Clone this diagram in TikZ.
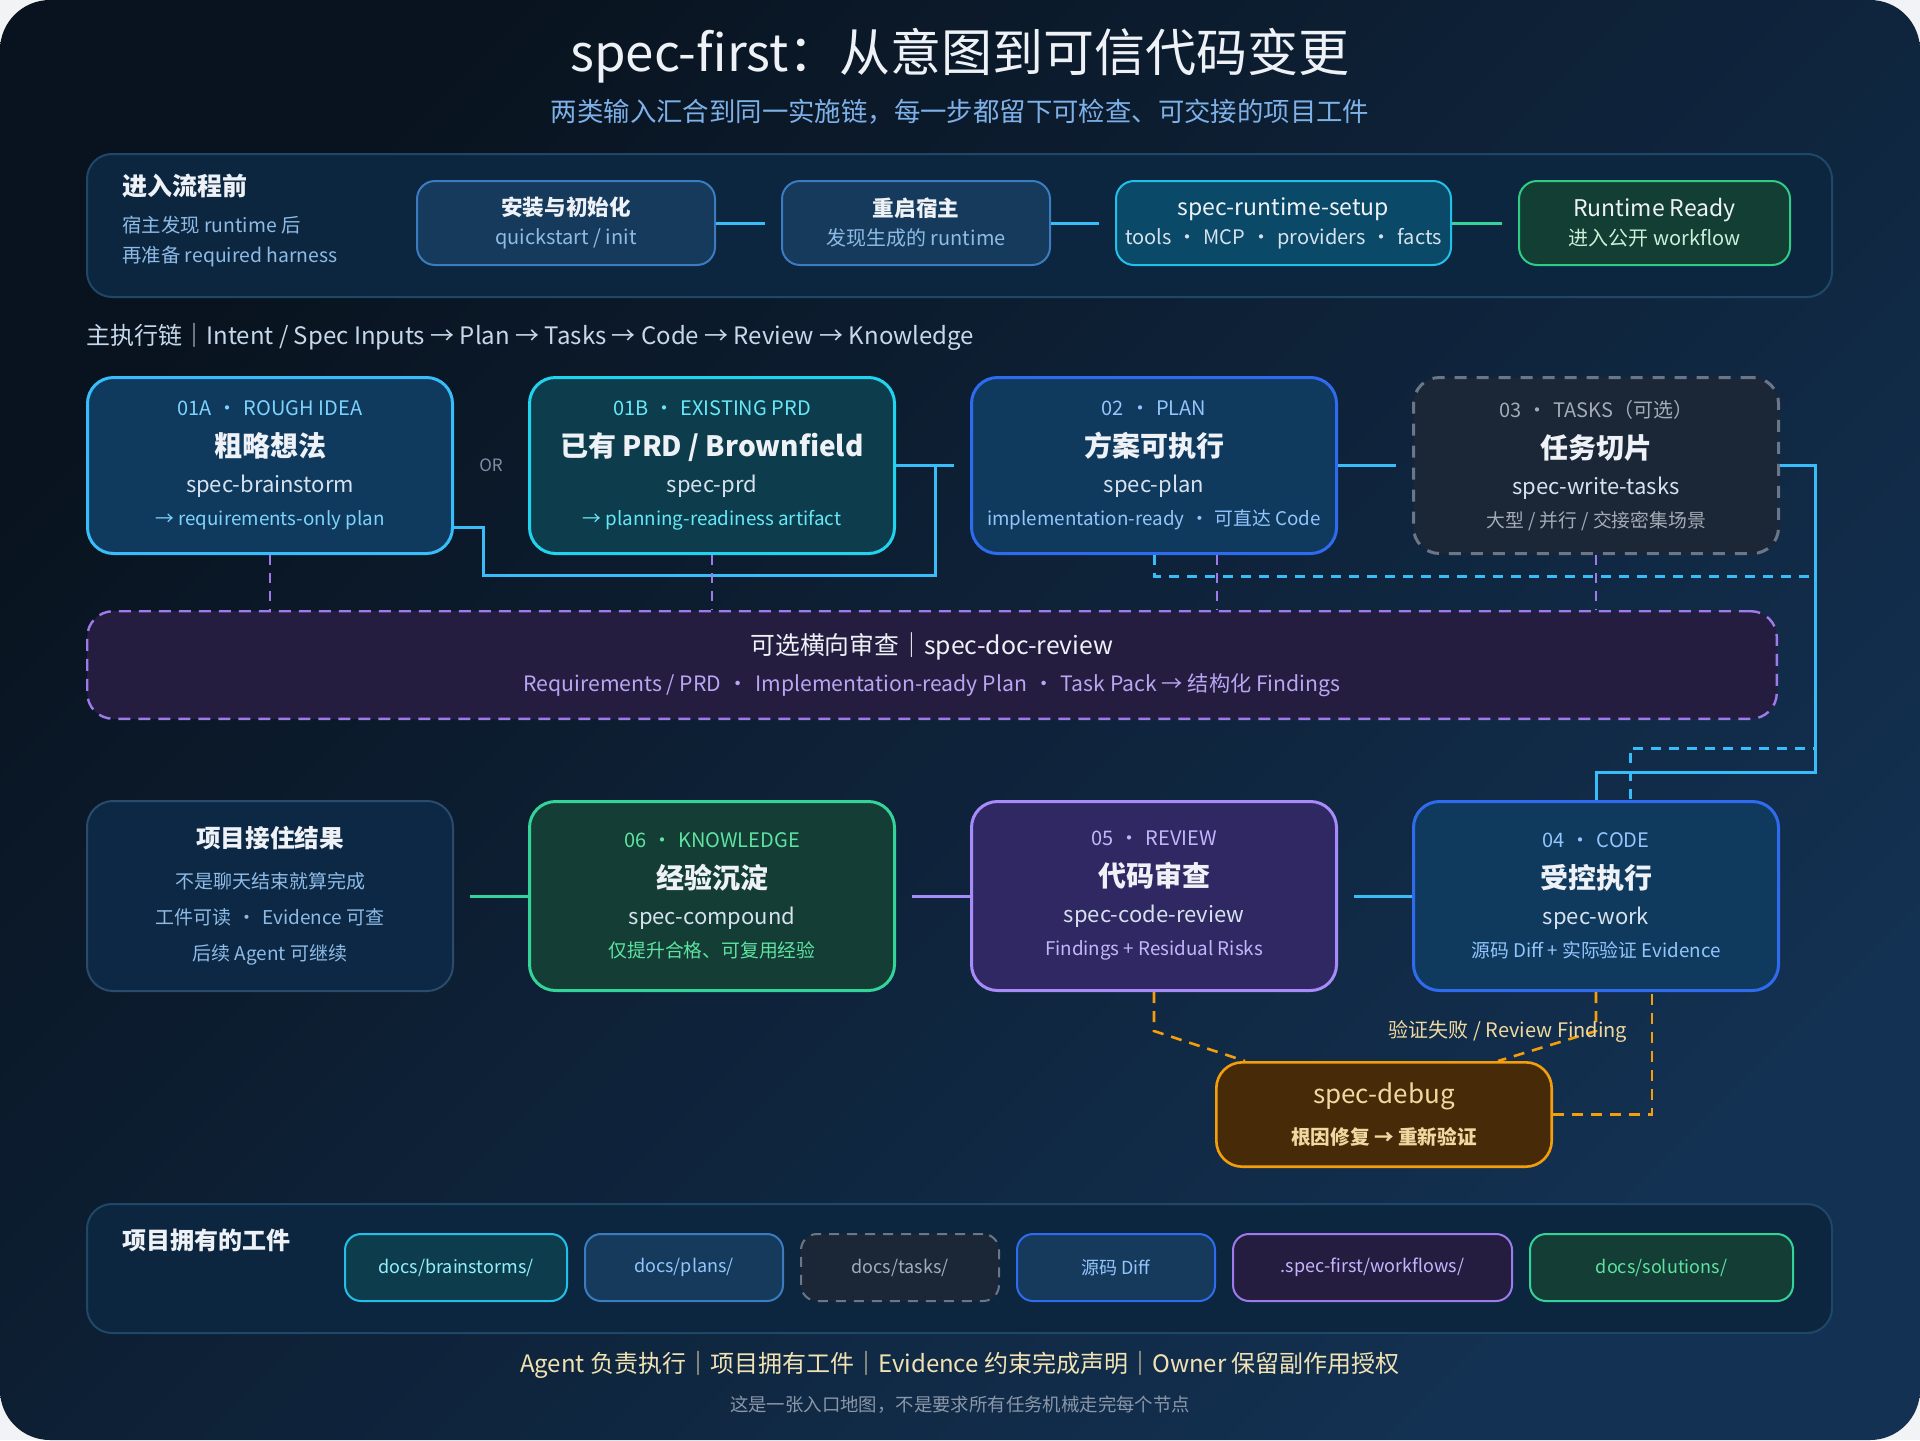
\documentclass[tikz,border=0pt]{standalone}
\usepackage{fontspec}
\setmainfont{Noto Sans CJK SC}
\usetikzlibrary{calc,positioning}
\definecolor{sf-corner}{HTML}{F2F3F5}
\definecolor{sf-bgA}{HTML}{09131F}
\definecolor{sf-bgB}{HTML}{133152}
\definecolor{sf-panel}{HTML}{0C2640}
\definecolor{sf-panelline}{HTML}{1F4868}
\definecolor{sf-head}{HTML}{EEF2F7}
\definecolor{sf-soft}{HTML}{8EBBE6}
\definecolor{sf-sub}{HTML}{7DB1E8}
\definecolor{sf-chain}{HTML}{C6D8EA}
\definecolor{sf-step}{HTML}{153A5C}
\definecolor{sf-stepline}{HTML}{3B7BC0}
\definecolor{sf-setup}{HTML}{0A4A68}
\definecolor{sf-setupline}{HTML}{22C0E8}
\definecolor{sf-ready}{HTML}{123E33}
\definecolor{sf-readyline}{HTML}{2ECC85}
\definecolor{sf-readytext}{HTML}{CDEFD9}
\definecolor{sf-idea}{HTML}{0F3A5E}
\definecolor{sf-sky}{HTML}{38BDF8}
\definecolor{sf-skytext}{HTML}{7DD3FC}
\definecolor{sf-prd}{HTML}{0D3D4C}
\definecolor{sf-cyan}{HTML}{22D3EE}
\definecolor{sf-cyantext}{HTML}{67E8F9}
\definecolor{sf-blue}{HTML}{2F6BEF}
\definecolor{sf-bluetext}{HTML}{93C5FD}
\definecolor{sf-tasks}{HTML}{1B2636}
\definecolor{sf-gray}{HTML}{6B7786}
\definecolor{sf-graytext}{HTML}{A3ABB6}
\definecolor{sf-doc}{HTML}{241D40}
\definecolor{sf-violet}{HTML}{9F7AEA}
\definecolor{sf-violettext}{HTML}{B9A6F2}
\definecolor{sf-know}{HTML}{133D35}
\definecolor{sf-green}{HTML}{34D399}
\definecolor{sf-greentext}{HTML}{5EE3A1}
\definecolor{sf-rev}{HTML}{2F2862}
\definecolor{sf-lilac}{HTML}{A78BFA}
\definecolor{sf-lilactext}{HTML}{C4B5FD}
\definecolor{sf-debug}{HTML}{472B08}
\definecolor{sf-amber}{HTML}{F59E0B}
\definecolor{sf-ambertext}{HTML}{F0D9A0}
\definecolor{sf-outcome}{HTML}{0C2844}
\definecolor{sf-outline}{HTML}{2A4B6C}
\definecolor{sf-skill}{HTML}{D6E2EE}
\definecolor{sf-motto}{HTML}{F1E2B3}
\definecolor{sf-foot}{HTML}{8A97A8}
\definecolor{sf-or}{HTML}{7F8EA3}
\newcommand{\sfdot}{\hspace{0.3em}·\hspace{0.3em}}
\newcommand{\steplines}[3]{{\color{sf-head}\fontsize{10.8}{14.5}\selectfont #1}\\{\color{#2}\fontsize{10}{14.5}\selectfont #3}}
\newcommand{\stagelines}[5]{%
  {\color{#1}\fontsize{10}{17}\selectfont #2}\\[3.5pt]
  {\color{sf-head}\bfseries\fontsize{14}{17}\selectfont #3}\\[1pt]
  {\color{sf-skill}\fontsize{11}{17}\selectfont #4}\\[-0.5pt]
  {\color{#1}\fontsize{9.4}{17}\selectfont #5}}

\begin{document}
\begin{tikzpicture}[x=0.5pt, y=-0.5pt,
  panel/.style={draw=sf-panelline, fill=sf-panel, line width=1pt, rounded corners=12.5pt, inner sep=0pt},
  paneltitle/.style={text=sf-head, font=\bfseries\fontsize{12.5}{15}\selectfont, inner sep=0pt, anchor=west},
  stepbox/.style={line width=1pt, rounded corners=9pt, minimum height=42pt, inner sep=0pt, align=center, font=\fontsize{9}{14.5}\selectfont},
  stagebox/.style={line width=1.5pt, rounded corners=13pt, minimum width=182.5pt, minimum height=88pt, inner sep=0pt, align=center, font=\fontsize{9}{17}\selectfont},
  lowbox/.style={stagebox, minimum height=94.5pt},
  chip/.style={line width=1pt, rounded corners=8pt, minimum height=33.5pt, inner sep=0pt, font=\fontsize{9}{11}\selectfont},
  flow/.style={line width=1.5pt},
  skiplink/.style={draw=sf-sky, line width=1.5pt, dash pattern=on 5pt off 4pt},
  tap/.style={draw=sf-violet, line width=1pt, dash pattern=on 5pt off 4pt},
  fixlink/.style={draw=sf-amber, line width=1.3pt, dash pattern=on 5.5pt off 4pt},
]
  \useasboundingbox (0,0) rectangle (1920,1440);
  \fill[sf-corner] (0,0) rectangle (1920,1440);
  \shade[top color=sf-bgA, bottom color=sf-bgB, shading angle=45, rounded corners=25pt] (0,0) rectangle (1920,1440);

  \node[text=sf-head, font=\fontsize{25.5}{28}\selectfont] (title) at (960,56) {spec-first：从意图到可信代码变更};
  \node[text=sf-sub, font=\fontsize{13.2}{15}\selectfont] (subtitle) at (960,112) {两类输入汇合到同一实施链，每一步都留下可检查、可交接的项目工件};

  \node[panel, minimum width=872.5pt, minimum height=71.5pt] (prep) at (959.5,225.5) {};
  \node[paneltitle] (preptitle) at (122,186) {进入流程前};
  \node[anchor=west, inner sep=0pt, align=left, text=sf-soft, font=\fontsize{9.7}{15}\selectfont] (prepnote) at (122,242) {宿主发现 runtime 后\\再准备 required harness};
  \node[stepbox, fill=sf-step, draw=sf-stepline, minimum width=149pt] (inst) at (566,223) {\steplines{\bfseries 安装与初始化}{sf-soft}{quickstart / init}};
  \node[stepbox, fill=sf-step, draw=sf-stepline, minimum width=134pt, right=32.5pt of inst] (boot) {\steplines{\bfseries 重启宿主}{sf-soft}{发现生成的 runtime}};
  \node[stepbox, fill=sf-setup, draw=sf-setupline, minimum width=167.5pt, right=32pt of boot] (setup) {\steplines{\fontsize{11.5}{14.5}\selectfont spec-runtime-setup}{sf-skill}{tools\sfdot MCP\sfdot providers\sfdot facts}};
  \node[stepbox, fill=sf-ready, draw=sf-readyline, minimum width=135.5pt, right=33pt of setup] (ready) {\steplines{\fontsize{11.5}{14.5}\selectfont Runtime Ready}{sf-readytext}{进入公开 workflow}};
  \draw[flow, draw=sf-sky] (inst.east) -- ([xshift=-8pt]boot.west);
  \draw[flow, draw=sf-sky] (boot.east) -- ([xshift=-8pt]setup.west);
  \draw[flow, draw=sf-green] (setup.east) -- ([xshift=-8pt]ready.west);

  \node[anchor=west, inner sep=0pt, text=sf-chain, font=\fontsize{12}{13}\selectfont] (chain) at (86,337) {主执行链｜Intent / Spec Inputs → Plan → Tasks → Code → Review → Knowledge};

  \node[stagebox, fill=sf-idea, draw=sf-sky] (idea) at (270,465.5) {\stagelines{sf-skytext}{01A\sfdot ROUGH IDEA}{粗略想法}{spec-brainstorm}{→ requirements-only plan}};
  \node[stagebox, fill=sf-prd, draw=sf-cyan, right=37pt of idea] (prd) {\stagelines{sf-cyantext}{01B\sfdot EXISTING PRD}{已有 PRD / Brownfield}{spec-prd}{→ planning-readiness artifact}};
  \node[stagebox, fill=sf-idea, draw=sf-blue, right=37pt of prd] (plan) {\stagelines{sf-bluetext}{02\sfdot PLAN}{方案可执行}{spec-plan}{implementation-ready\sfdot 可直达 Code}};
  \node[stagebox, fill=sf-tasks, draw=sf-gray, dash pattern=on 6pt off 5pt, right=37pt of plan] (tasks) {\stagelines{sf-graytext}{03\sfdot TASKS（可选）}{任务切片}{spec-write-tasks}{大型 / 并行 / 交接密集场景}};
  \node[text=sf-or, font=\fontsize{8.5}{10}\selectfont] (or) at (491,465) {OR};

  \node[fill=sf-doc, draw=sf-violet, line width=1.2pt, dash pattern=on 6pt off 4pt, rounded corners=13pt, minimum width=844.8pt, minimum height=53.8pt, inner sep=0pt, align=center, font=\fontsize{10.6}{18.5}\selectfont] (review) at (932,665)
    {{\color{sf-head}\fontsize{12.4}{18.5}\selectfont 可选横向审查｜spec-doc-review}\\{\color{sf-violettext}Requirements / PRD\sfdot Implementation-ready Plan\sfdot Task Pack → 结构化 Findings}};

  \node[lowbox, fill=sf-outcome, draw=sf-outline, line width=1pt, minimum width=183pt, minimum height=95pt, font=\fontsize{9.5}{18}\selectfont] (outcome) at (270,896)
    {{\color{sf-head}\bfseries\fontsize{12.3}{18}\selectfont 项目接住结果}\\[2.5pt]{\color{sf-soft}不是聊天结束就算完成}\\{\color{sf-soft}工件可读\sfdot Evidence 可查}\\{\color{sf-soft}后续 Agent 可继续}};
  \node[lowbox, fill=sf-know, draw=sf-green, right=37pt of outcome] (know) {\stagelines{sf-greentext}{06\sfdot KNOWLEDGE}{经验沉淀}{spec-compound}{仅提升合格、可复用经验}};
  \node[lowbox, fill=sf-rev, draw=sf-lilac, right=37pt of know] (codereview) {\stagelines{sf-lilactext}{05\sfdot REVIEW}{代码审查}{spec-code-review}{Findings + Residual Risks}};
  \node[lowbox, fill=sf-idea, draw=sf-blue, right=37pt of codereview] (code) {\stagelines{sf-bluetext}{04\sfdot CODE}{受控执行}{spec-work}{源码 Diff + 实际验证 Evidence}};

  \coordinate (merge) at ([xshift=19.5pt]prd.east);
  \coordinate (rail) at ([xshift=17.5pt]tasks.east);
  \draw[flow, draw=sf-sky] ([yshift=-31pt]idea.east) -- ++(29,0) -- ++(0,48) -| (merge);
  \draw[flow, draw=sf-sky] (prd.east) -- ([xshift=-8pt]plan.west);
  \draw[flow, draw=sf-sky] (plan.east) -- ([xshift=-8pt]tasks.west);
  \draw[flow, draw=sf-sky] (tasks.east) -- (rail) |- ([yshift=14pt]code.north) -- (code.north);
  \draw[skiplink] (plan.south) -- ++(0,21) -| ($(rail |- code.north)+(0,-52)$) -| ([xshift=17pt]code.north);
  \draw[tap] (idea.south) -- (idea.south |- review.north);
  \draw[tap] (prd.south) -- (prd.south |- review.north);
  \draw[tap] ([xshift=31.5pt]plan.south) -- ([xshift=31.5pt]plan.south |- review.north);
  \draw[tap] (tasks.south) -- (tasks.south |- review.north);
  \draw[flow, draw=sf-sky] (code.west) -- ([xshift=8pt]codereview.east);
  \draw[flow, draw=sf-lilac] (codereview.west) -- ([xshift=8pt]know.east);
  \draw[flow, draw=sf-green] (know.west) -- ([xshift=8pt]outcome.east);

  \node[fill=sf-debug, draw=sf-amber, line width=1.3pt, rounded corners=13pt, minimum width=167.7pt, minimum height=52.2pt, inner sep=0pt, align=center, font=\fontsize{9.8}{20.5}\selectfont] (debug) at (1384,1114.5)
    {{\color{sf-ambertext}\fontsize{13}{20.5}\selectfont spec-debug}\\{\color{sf-ambertext}\bfseries 根因修复 → 重新验证}};
  \draw[fixlink] (codereview.south) -- ++(0,39) -- ([xshift=-69.5pt]debug.north);
  \draw[fixlink] (code.south) -- ++(0,39) -- ([xshift=57pt]debug.north);
  \draw[fixlink] (debug.east) -| ([xshift=28pt]code.south);
  \node[text=sf-ambertext, font=\fontsize{10}{11}\selectfont] (fixnote) at (1508,1032) {验证失败 / Review Finding};

  \node[panel, minimum width=872.5pt, minimum height=64.5pt] (owned) at (959.5,1268.5) {};
  \node[paneltitle, font=\bfseries\fontsize{12}{15}\selectfont] (ownedtitle) at (122,1240) {项目拥有的工件};
  \node[chip, fill=sf-prd, draw=sf-setupline, text=sf-cyantext!70!white, minimum width=111pt] (c1) at (456,1267.5) {docs/brainstorms/};
  \node[chip, fill=sf-step, draw=sf-stepline, text=sf-bluetext, minimum width=99pt, right=8pt of c1] (c2) {docs/plans/};
  \node[chip, fill=sf-tasks, draw=sf-gray, dash pattern=on 5pt off 4pt, text=sf-graytext, minimum width=99pt, right=8pt of c2] (c3) {docs/tasks/};
  \node[chip, fill=sf-step, draw=sf-blue, text=sf-bluetext, minimum width=99pt, right=8pt of c3] (c4) {源码 Diff};
  \node[chip, fill=sf-doc, draw=sf-violet, text=sf-lilactext, minimum width=139.5pt, right=8pt of c4] (c5) {.spec-first/workflows/};
  \node[chip, fill=sf-know, draw=sf-green, text=sf-greentext, minimum width=131.5pt, right=8pt of c5] (c6) {docs/solutions/};

  \node[text=sf-motto, font=\fontsize{12}{14}\selectfont] (motto) at (960,1365) {Agent 负责执行｜项目拥有工件｜Evidence 约束完成声明｜Owner 保留副作用授权};
  \node[text=sf-foot, font=\fontsize{9.2}{11}\selectfont] (hint) at (960,1405) {这是一张入口地图，不是要求所有任务机械走完每个节点};
\end{tikzpicture}
\end{document}
